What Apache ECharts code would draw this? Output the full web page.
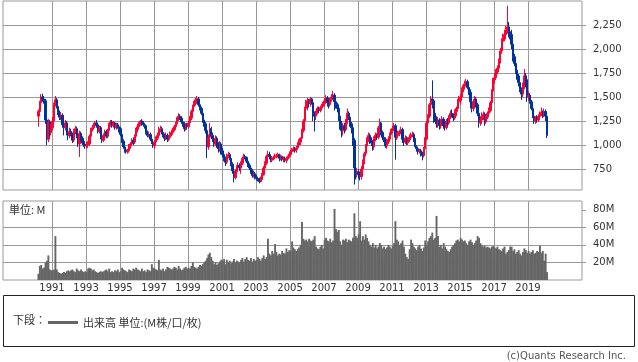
<!DOCTYPE html>
<html><head><meta charset="utf-8">
<script src="https://cdn.jsdelivr.net/npm/echarts@6/dist/echarts.min.js"></script>
<style>html,body{margin:0;padding:0;background:#fff}#c{width:638px;height:362px}</style>
</head><body><div id="c"></div>
<script>
// first candle: March 1990, monthly through February 2020
const startYear = 1990, startMonth = 3;

const open = [
 1300,1350,1440,1500,1480,1460,1260,1060,1240,1130,
 1180,1250,1420,1470,1400,1340,1290,1310,1210,1180,1230,1130,
 1100,1140,1110,1050,1140,1170,1090,1010,1120,1070,1020,1010,
 990,1000,1010,1090,1160,1180,1200,1230,1210,1140,1180,1080,
 1050,1100,1140,1090,1150,1210,1240,1200,1230,1180,1210,1190,
 1170,1110,1040,980,950,930,940,990,1010,1050,1030,1090,
 1160,1190,1220,1250,1230,1210,1200,1130,1100,1110,1060,1030,
 990,1030,1070,1100,1160,1170,1130,1100,1070,1100,1060,1080,
 1110,1130,1160,1190,1220,1270,1300,1280,1240,1220,1170,1200,
 1190,1230,1280,1350,1400,1430,1470,1480,1420,1380,1330,1260,
 1220,1150,980,1080,1170,1100,1060,1010,1070,1000,960,1010,
 940,900,860,820,880,900,860,800,730,660,720,770,
 790,760,810,860,880,870,830,790,760,730,680,700,
 660,650,640,620,640,690,760,810,880,900,880,840,
 860,870,880,890,900,860,880,850,860,840,860,870,
 900,930,950,960,940,970,1000,1030,1070,1150,1250,1380,
 1450,1460,1430,1480,1440,1330,1300,1340,1380,1360,1390,1400,
 1430,1460,1490,1440,1420,1470,1500,1520,1450,1420,1380,1300,
 1220,1150,1200,1160,1250,1330,1290,1220,1180,1050,760,700,
 720,690,670,750,830,910,990,1060,1100,1050,1020,980,
 1070,1100,1080,1180,1230,1130,1080,1060,990,1040,1060,1110,
 1150,1170,1200,1080,1100,1120,1140,1160,1060,1030,1070,1020,
 1060,1080,1100,1110,1050,980,960,930,940,910,890,960,
 1060,1230,1300,1420,1480,1460,1330,1280,1220,1260,1200,1250,
 1270,1200,1180,1250,1230,1290,1330,1310,1280,1350,1380,1450,
 1460,1500,1580,1620,1640,1660,1600,1550,1450,1380,1450,1480,
 1420,1330,1230,1260,1300,1320,1240,1290,1330,1360,1440,1560,
 1680,1700,1760,1800,1880,1980,2080,2120,2150,2200,2230,2180,
 2150,2050,1920,1850,1780,1720,1650,1580,1530,1620,1720,1680,
 1500,1520,1450,1380,1300,1250,1280,1260,1300,1320,1340,1310,
 1350,1300
];
const close = [
 1350,1440,1500,1480,1460,1260,1060,1240,1130,1180,
 1250,1420,1470,1400,1340,1290,1310,1210,1180,1230,1130,1100,
 1140,1110,1050,1140,1170,1090,1010,1120,1070,1020,1010,990,
 1000,1010,1090,1160,1180,1200,1230,1210,1140,1180,1080,1050,
 1100,1140,1090,1150,1210,1240,1200,1230,1180,1210,1190,1170,
 1110,1040,980,950,930,940,990,1010,1050,1030,1090,1160,
 1190,1220,1250,1230,1210,1200,1130,1100,1110,1060,1030,990,
 1030,1070,1100,1160,1170,1130,1100,1070,1100,1060,1080,1110,
 1130,1160,1190,1220,1270,1300,1280,1240,1220,1170,1200,1190,
 1230,1280,1350,1400,1430,1470,1480,1420,1380,1330,1260,1220,
 1150,980,1080,1170,1100,1060,1010,1070,1000,960,1010,940,
 900,860,820,880,900,860,800,730,660,720,770,790,
 760,810,860,880,870,830,790,760,730,680,700,660,
 650,640,620,640,690,760,810,880,900,880,840,860,
 870,880,890,900,860,880,850,860,840,860,870,900,
 930,950,960,940,970,1000,1030,1070,1150,1250,1380,1450,
 1460,1430,1480,1440,1330,1300,1340,1380,1360,1390,1400,1430,
 1460,1490,1440,1420,1470,1500,1520,1450,1420,1380,1300,1220,
 1150,1200,1160,1250,1330,1290,1220,1180,1050,760,700,720,
 690,670,750,830,910,990,1060,1100,1050,1020,980,1070,
 1100,1080,1180,1230,1130,1080,1060,990,1040,1060,1110,1150,
 1170,1200,1080,1100,1120,1140,1160,1060,1030,1070,1020,1060,
 1080,1100,1110,1050,980,960,930,940,910,890,960,1060,
 1230,1300,1420,1480,1460,1330,1280,1220,1260,1200,1250,1270,
 1200,1180,1250,1230,1290,1330,1310,1280,1350,1380,1450,1460,
 1500,1580,1620,1640,1660,1600,1550,1450,1380,1450,1480,1420,
 1330,1230,1260,1300,1320,1240,1290,1330,1360,1440,1560,1680,
 1700,1760,1800,1880,1980,2080,2120,2150,2200,2230,2180,2150,
 2050,1920,1850,1780,1720,1650,1580,1530,1620,1720,1680,1500,
 1520,1450,1380,1300,1250,1280,1260,1300,1320,1340,1310,1350,
 1300,1100
];
const high = [
 1370,1460,1530,1535,1510,1480,1280,1270,1260,1220,
 1290,1440,1510,1490,1420,1360,1340,1330,1240,1260,1250,1160,
 1180,1170,1130,1170,1200,1190,1110,1150,1140,1090,1060,1040,
 1030,1040,1110,1180,1210,1230,1250,1260,1230,1200,1200,1100,
 1120,1160,1160,1170,1230,1260,1260,1250,1240,1230,1230,1210,
 1190,1130,1060,1000,970,960,1010,1030,1070,1080,1110,1180,
 1220,1240,1260,1270,1250,1230,1210,1150,1140,1130,1080,1050,
 1050,1090,1130,1190,1200,1190,1150,1120,1130,1120,1100,1140,
 1160,1180,1210,1240,1290,1330,1320,1300,1260,1240,1220,1230,
 1250,1300,1370,1420,1460,1490,1510,1500,1440,1400,1350,1280,
 1240,1170,1110,1230,1190,1130,1080,1100,1090,1030,1040,1030,
 970,920,880,910,930,920,870,820,750,750,790,820,
 810,830,880,910,900,880,850,810,780,750,720,720,
 690,670,660,670,710,780,830,900,940,930,890,880,
 890,910,910,920,910,900,890,880,880,880,890,910,
 950,970,985,980,990,1030,1060,1080,1170,1270,1400,1470,
 1490,1480,1500,1490,1450,1350,1360,1400,1400,1410,1430,1450,
 1490,1520,1510,1470,1490,1530,1565,1540,1480,1440,1400,1330,
 1250,1230,1230,1270,1380,1350,1310,1240,1200,1070,800,760,
 750,720,780,850,930,1010,1080,1130,1120,1080,1040,1090,
 1130,1120,1200,1275,1240,1150,1110,1080,1060,1090,1130,1170,
 1200,1230,1220,1130,1150,1160,1190,1180,1090,1100,1090,1080,
 1110,1130,1140,1130,1070,1000,980,960,960,930,980,1080,
 1250,1320,1440,1510,1673,1480,1360,1300,1290,1280,1270,1300,
 1290,1230,1270,1280,1310,1360,1370,1330,1370,1400,1480,1510,
 1530,1600,1640,1670,1688,1680,1630,1580,1480,1480,1510,1500,
 1440,1350,1300,1340,1350,1340,1310,1350,1390,1460,1580,1700,
 1750,1790,1830,1900,2010,2110,2160,2200,2240,2451,2280,2230,
 2200,2080,1950,1880,1800,1740,1680,1600,1650,1792,1750,1700,
 1560,1540,1470,1400,1320,1300,1310,1320,1350,1390,1360,1380,
 1370,1320
];
const low = [
 1190,1320,1410,1450,1430,1220,1000,1030,1090,1100,
 1150,1230,1400,1380,1310,1260,1260,1180,1100,1150,1100,1050,
 1070,1090,1020,1030,1110,1070,980,875,1040,1000,980,960,
 960,970,990,1070,1140,1160,1180,1180,1120,1120,1060,1020,
 1030,1080,1070,1070,1130,1190,1180,1180,1160,1160,1170,1130,
 1090,1020,960,920,910,910,920,960,990,1000,1010,1070,
 1130,1170,1200,1200,1190,1170,1110,1080,1080,1040,1010,970,
 960,1000,1050,1080,1130,1110,1080,1040,1050,1030,1040,1060,
 1090,1110,1140,1170,1200,1250,1260,1220,1190,1140,1150,1160,
 1170,1210,1260,1330,1380,1410,1450,1400,1360,1310,1230,1190,
 1120,864,950,1050,1060,1030,980,990,970,920,930,900,
 870,830,780,800,860,840,780,700,610,640,700,750,
 730,700,790,840,850,810,770,740,700,660,660,640,
 630,620,600,610,630,680,740,790,860,850,820,820,
 840,850,860,870,830,840,830,820,820,810,840,850,
 880,910,930,920,920,950,980,1000,1050,1130,1240,1360,
 1360,1390,1400,1420,1250,1140,1260,1320,1330,1340,1360,1380,
 1400,1440,1400,1380,1400,1450,1480,1360,1380,1340,1250,1160,
 1080,1100,1120,1140,1220,1260,1190,1120,990,587,640,660,
 650,630,640,720,800,880,960,1030,1010,990,940,950,
 1040,1050,1060,1150,1100,1050,1030,970,960,1010,1030,1090,
 1120,1150,847,1050,1070,1090,1110,1020,990,1010,1000,1000,
 1030,1050,1080,1030,960,930,900,910,880,840,870,950,
 1050,1200,1280,1380,1380,1230,1240,1180,1180,1160,1170,1220,
 1170,1150,1160,1200,1210,1270,1290,1250,1260,1300,1360,1400,
 1420,1480,1550,1590,1610,1580,1520,1380,1340,1350,1430,1390,
 1300,1180,1200,1220,1260,1200,1220,1270,1300,1340,1400,1550,
 1640,1680,1740,1760,1850,1950,2040,2080,2100,2160,2120,2100,
 2000,1870,1820,1740,1680,1610,1550,1470,1500,1580,1600,1450,
 1460,1430,1360,1280,1220,1220,1230,1240,1270,1300,1280,1290,
 1250,1073
];
const volume = [
 7,16,17,13,14,20,22,28,12,11,
 11,12,50,12,9,8,7,8,9,8,10,11,
 10,11,12,10,9,13,11,10,12,10,9,10,
 9,13,14,13,11,12,10,9,8,9,10,9,
 10,11,12,10,13,9,10,9,11,10,12,9,
 10,14,12,11,10,9,12,11,10,13,12,14,
 12,11,10,13,10,11,9,12,11,10,18,14,
 13,12,11,23,12,11,13,10,12,15,14,13,
 12,13,15,14,12,16,13,11,12,14,15,13,
 14,13,16,20,15,14,13,15,17,16,18,20,
 22,25,29,31,26,22,18,20,17,19,21,23,
 22,24,18,23,20,22,19,21,24,20,22,21,
 20,23,25,21,24,26,23,22,25,21,24,22,
 23,26,24,22,25,28,24,26,47,30,28,33,
 30,41,32,28,30,29,33,31,30,36,32,34,
 33,44,37,35,33,35,37,40,66,47,45,46,
 44,47,45,44,46,50,38,36,35,38,40,36,
 46,48,45,44,47,43,45,81,58,55,57,44,
 40,46,45,47,43,46,45,44,48,76,50,48,
 52,67,45,50,46,52,48,44,40,38,42,37,
 40,36,38,42,40,36,38,35,37,40,38,36,
 39,42,67,46,44,40,42,45,38,30,26,24,
 35,46,42,38,36,34,38,40,36,33,37,45,
 40,44,48,50,54,46,48,73,50,38,40,36,
 42,38,35,33,32,35,38,40,42,45,46,44,
 48,46,44,45,42,40,44,46,43,40,42,45,
 50,48,42,40,38,39,37,38,37,36,38,39,
 37,36,38,35,34,33,36,38,30,32,34,38,
 38,33,35,30,32,34,30,28,32,36,34,31,
 33,30,32,34,30,31,33,32,39,31,33,22,
 30,9
];
const yearTicks = [1991,1993,1995,1997,1999,2001,2003,2005,2007,2009,2011,2013,2015,2017,2019];
const priceTicks = [750,1000,1250,1500,1750,2000,2250];
const volumeTicks = [20,40,60,80];
const volumeGridLines = [20,40,60];
const volumeName = '出来高 単位:(M株/口/枚)';

const dates = open.map((_, i) => Date.UTC(startYear, startMonth - 1 + i, 15));
const candleData = open.map((o, i) => [dates[i], o, close[i], low[i], high[i]]);
const volumeData = volume.map((v, i) => [dates[i], v]);
const yearTimes = yearTicks.map(y => Date.UTC(y, 0, 1));

const YEAR = 365.25 * 86400000;
const t1991 = Date.UTC(1991, 0, 1);
const xMin = t1991 - (49 / 17) * YEAR;
const xMax = t1991 + (530 / 17) * YEAR;

const GRID = '#999';
const FONT = '"DejaVu Sans", sans-serif';
const JP = '"Noto Sans CJK JP", sans-serif';
const fmtPrice = v => String(v).replace(/\B(?=(\d{3})+(?!\d))/g, ',');

const chart = echarts.init(document.getElementById('c'), null, {renderer: 'canvas'});
const xBase = (idx, labels) => ({
  type: 'value', gridIndex: idx, min: xMin, max: xMax,
  axisLine: {show: false},
  axisTick: {show: false, customValues: yearTimes},
  axisLabel: labels ? {customValues: yearTimes, formatter: v => String(new Date(v).getUTCFullYear()),
    margin: 3, color: '#333', fontSize: 10, fontFamily: FONT} : {show: false, customValues: yearTimes},
  splitLine: {show: true, lineStyle: {color: GRID, width: 1}}
});
chart.setOption({
  animation: false,
  backgroundColor: '#fff',
  textStyle: {fontFamily: FONT},
  grid: [
    {left: 3, top: 1, width: 579, height: 189, show: true, borderColor: GRID, borderWidth: 1},
    {left: 3, top: 201, width: 579, height: 79, show: true, borderColor: GRID, borderWidth: 1}
  ],
  xAxis: [xBase(0, false), xBase(1, true)],
  yAxis: [
    {type: 'value', gridIndex: 0, position: 'right', min: 531, max: 2500,
     axisLine: {show: false},
     axisTick: {show: true, length: 4, customValues: priceTicks, lineStyle: {color: GRID}},
     axisLabel: {customValues: priceTicks, formatter: fmtPrice, margin: 11, color: '#333', fontSize: 10, fontFamily: FONT},
     splitLine: {show: true, lineStyle: {color: GRID}}},
    {type: 'value', gridIndex: 1, position: 'right', min: 0, max: 90,
     axisLine: {show: false},
     axisTick: {show: true, length: 4, customValues: volumeTicks, lineStyle: {color: GRID}},
     axisLabel: {customValues: volumeTicks, formatter: v => v + 'M', margin: 11, color: '#333', fontSize: 10, fontFamily: FONT},
     splitLine: {show: false}},
    {type: 'value', gridIndex: 1, position: 'right', min: 0, max: 90,
     axisLine: {show: false},
     axisTick: {show: false, customValues: volumeGridLines},
     axisLabel: {show: false, customValues: volumeGridLines},
     splitLine: {show: true, lineStyle: {color: GRID}}}
  ],
  legend: {
    data: [{name: volumeName, icon: 'rect'}],
    left: 43, top: 312, itemWidth: 30, itemHeight: 3, selectedMode: false,
    textStyle: {fontSize: 11, color: '#333', fontFamily: JP}
  },
  series: [
    {type: 'candlestick', xAxisIndex: 0, yAxisIndex: 0, data: candleData,
     encode: {x: 0, y: [1, 2, 3, 4]}, barWidth: 1.9,
     itemStyle: {color: '#ff0033', color0: '#003399', borderColor: '#ff0033', borderColor0: '#003399', borderWidth: 1}},
    {type: 'bar', name: volumeName, xAxisIndex: 1, yAxisIndex: 1, data: volumeData,
     barWidth: 1.9, itemStyle: {color: '#666'}}
  ],
  graphic: [
    {type: 'rect', silent: true, shape: {x: 3.5, y: 295.5, width: 631, height: 51},
     style: {fill: 'none', stroke: '#222', lineWidth: 1}},
    {type: 'text', silent: true, x: 13, y: 320,
     style: {text: '下段：', fill: '#333', font: '11px ' + JP, verticalAlign: 'middle'}},
    {type: 'text', silent: true, x: 9, y: 210,
     style: {text: '単位: M', fill: '#333', font: '11px ' + JP, verticalAlign: 'middle'}},
    {type: 'text', silent: true, x: 626, y: 356,
     style: {text: '(c)Quants Research Inc.', fill: '#555', font: '10px ' + FONT, align: 'right', verticalAlign: 'middle'}}
  ]
});
</script></body></html>
